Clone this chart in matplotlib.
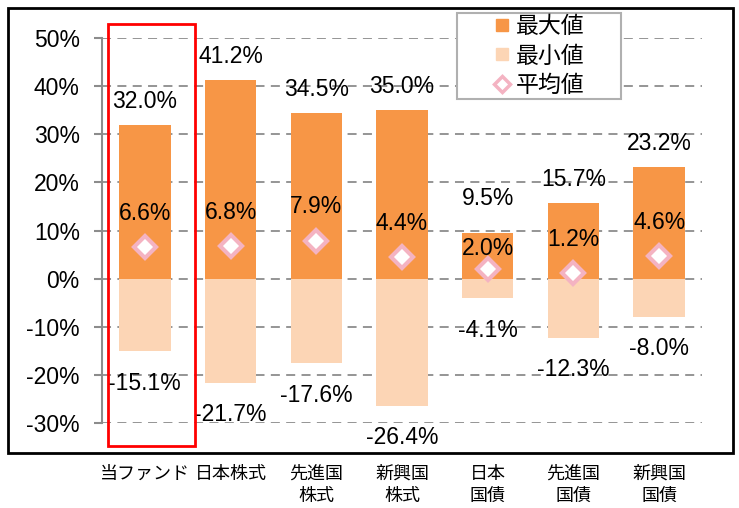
import numpy as np
import matplotlib.pyplot as plt
from matplotlib.patches import Rectangle
from matplotlib.lines import Line2D

plt.rcParams['font.family'] = ['Liberation Sans', 'Noto Sans CJK JP', 'DejaVu Sans']

categories = ["当ファンド", "日本株式", "先進国\n株式", "新興国\n株式", "日本\n国債", "先進国\n国債", "新興国\n国債"]
max_vals = [32.0, 41.2, 34.5, 35.0, 9.5, 15.7, 23.2]
min_vals = [-15.1, -21.7, -17.6, -26.4, -4.1, -12.3, -8.0]
avg_vals = [6.6, 6.8, 7.9, 4.4, 2.0, 1.2, 4.6]

c_max = "#F79646"
c_min = "#FCD5B5"
c_avg = "#F4B3C2"

fig = plt.figure(figsize=(7.39, 5.08), dpi=100)
ax = fig.add_axes([102 / 739, 1 - 423 / 508, 600 / 739, 385 / 508])

x = np.arange(len(categories))
ax.bar(x, max_vals, width=0.6, color=c_max, zorder=2)
ax.bar(x, min_vals, width=0.6, color=c_min, zorder=2)
ax.plot(x, avg_vals, linestyle="none", marker="D", markersize=11, markerfacecolor="white",
        markeredgecolor=c_avg, markeredgewidth=3, zorder=3)

fs = 16.5
for i in range(len(x)):
    y_max = max_vals[i] + 4.9
    y_avg = avg_vals[i] + 7.0
    # keep the max and mean labels from overlapping
    gap = y_max - y_avg
    if gap < 10.4:
        y_max += (10.4 - gap) * 0.45
        y_avg -= (10.4 - gap) * 0.55
    ax.text(x[i], y_max, f"{max_vals[i]:.1f}%", ha="center", va="center", fontsize=fs)
    ax.text(x[i], min_vals[i] - 6.6, f"{min_vals[i]:.1f}%", ha="center", va="center", fontsize=fs)
    ax.text(x[i], y_avg, f"{avg_vals[i]:.1f}%", ha="center", va="center", fontsize=fs, zorder=4)

ax.set_xlim(-0.5, 6.5)
ax.set_ylim(-30, 50)
ax.set_yticks(np.arange(-30, 51, 10))
ax.set_yticklabels([f"{v}%" for v in range(-30, 51, 10)], fontsize=fs)
ax.yaxis.grid(True, linestyle=(0, (5, 3.5)), color="#8c8c8c", linewidth=1.3, zorder=0)
ax.set_axisbelow(True)
for s in ["top", "right", "bottom"]:
    ax.spines[s].set_visible(False)
ax.spines["left"].set_color("#8c8c8c")
ax.spines["left"].set_linewidth(1.5)
ax.tick_params(axis="y", color="#8c8c8c", length=6, width=1.5, pad=10)
ax.set_xticks(x)
ax.set_xticklabels(categories, fontsize=13, family=["Noto Sans CJK JP"], linespacing=1.32, va="top")
ax.tick_params(axis="x", length=0, pad=30)

# highlight box around the fund
ax.add_patch(Rectangle((-0.43, -34.8), 1.015, 87.7, fill=False, edgecolor="#FF0000",
                       linewidth=2, clip_on=False, zorder=5))

# legend: content centred in a wider box
handles = [
    Line2D([], [], linestyle="none", marker="s", markersize=9, color=c_max),
    Line2D([], [], linestyle="none", marker="s", markersize=9, color=c_min),
    Line2D([], [], linestyle="none", marker="D", markersize=8, markerfacecolor="white",
           markeredgecolor=c_avg, markeredgewidth=2.5),
]
fig.add_artist(Rectangle((457 / 739, 1 - 99 / 508), 164 / 739, 86 / 508, transform=fig.transFigure,
                         facecolor="white", edgecolor="#b0b0b0", linewidth=1.5, zorder=4))
leg = fig.legend(handles, ["最大値", "最小値", "平均値"], loc="center",
                 bbox_to_anchor=(539 / 739, 1 - 56 / 508), prop={"family": "Noto Sans CJK JP", "size": 16.5},
                 frameon=False, handlelength=0.8, handletextpad=0.2,
                 borderpad=0, labelspacing=0.27, borderaxespad=0)
leg.set_zorder(5)

# outer frame
fig.add_artist(Rectangle((8 / 739, 1 - 453 / 508), 725 / 739, 445 / 508, transform=fig.transFigure,
                         fill=False, edgecolor="black", linewidth=2))

fig.savefig("out.png", dpi=100)
